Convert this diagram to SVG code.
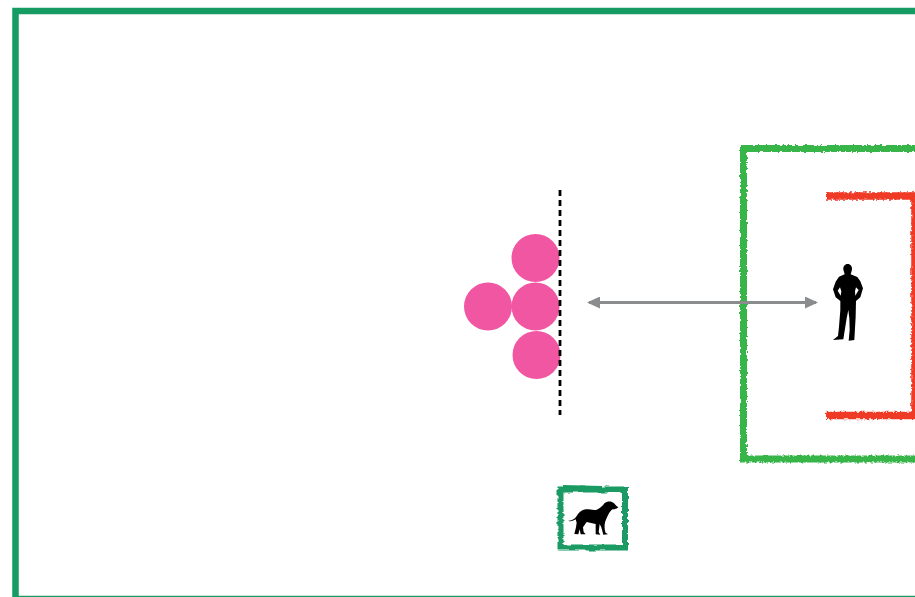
<svg xmlns="http://www.w3.org/2000/svg" width="915" height="597" viewBox="0 0 915 597">
<style>
.rough{fill:none;stroke-linejoin:miter;filter:url(#rough)}
.pink{fill:#f156a3}
.sil{fill:#000;fill-rule:evenodd}
.link{fill:none;stroke:#8a8c8e;stroke-width:2.8;marker-start:url(#head);marker-end:url(#head)}
</style>
<defs>
<filter id="rough" x="-5%" y="-5%" width="110%" height="110%">
<feTurbulence type="fractalNoise" baseFrequency="0.4" numOctaves="2" seed="4"/>
<feDisplacementMap in="SourceGraphic" scale="4" xChannelSelector="R" yChannelSelector="G"/>
<feGaussianBlur stdDeviation="0.45"/>
</filter>
<filter id="brush" x="-10%" y="-10%" width="120%" height="120%">
<feTurbulence type="fractalNoise" baseFrequency="0.08 0.35" numOctaves="2" seed="7"/>
<feDisplacementMap in="SourceGraphic" scale="4" xChannelSelector="R" yChannelSelector="G"/>
<feGaussianBlur stdDeviation="0.4"/>
</filter>
<marker id="head" viewBox="0 0 13 12" refX="11" refY="6" markerWidth="13" markerHeight="12" markerUnits="userSpaceOnUse" orient="auto-start-reverse">
<path d="M0 0L13 6L0 12Z" fill="#8a8c8e"/>
</marker>
</defs>
<rect width="915" height="597" fill="#fff"/>
<g id="outer-frame"><rect x="15.500" y="11" width="940" height="588" fill="none" stroke="#169b62" stroke-width="6.500"/></g>
<g id="green-room"><path class="rough" d="M960 148.500H743.500V459H960" stroke="#39b54a" stroke-width="7"/></g>
<g id="red-room"><path class="rough" d="M826 196H915V415.500H826" stroke="#ef3a26" stroke-width="7.500"/></g>
<g id="group-circles">
<circle class="pink" cx="535.500" cy="258" r="24"/>
<circle class="pink" cx="488" cy="306.500" r="24"/>
<circle class="pink" cx="535.500" cy="306.500" r="24"/>
<circle class="pink" cx="536.500" cy="355" r="24"/>
</g>
<g id="barrier"><path d="M560 190V415" fill="none" stroke="#000" stroke-width="2.800" stroke-dasharray="6 4"/></g>
<g id="connectors"><path class="link" d="M589 302.500H816"/></g>
<g id="person"><path class="sil" transform="translate(810 250) scale(.3333)" d="M113 42C122 42 127 50 126 58C125 65 123 69 122 73L142 81L151 94L159 115L151 142L138 153L137 200L133 270L116 272L119 240L118 205L115 180L110 205L100 268L69 270L84 258L87 230L91 180L91 153L77 142L69 118L77 95L87 80L104 73C103 68 101 64 100 58C99 50 104 42 113 42ZM90 112L83 122L92 137L94 124ZM138 112L146 120L136 137L135 124Z"/></g>
<g id="dog-box">
<path d="M560.500 489.500L625 489.500L625 547.500L560.500 547.500Z" fill="none" stroke="#1a9a63" stroke-width="6" filter="url(#brush)"/>
<path d="M563 486.500L602 487.500" fill="none" stroke="#1a9a63" stroke-width="3"/>
<path class="sil" transform="translate(540 470) scale(.3333)" d="M85 152C95 152 104 148 110 138C116 127 125 120 137 118C148 117 160 122 170 119C180 116 187 108 194 99C200 94 212 92 220 98C225 102 228 108 235 112C232 116 226 118 218 118C212 122 208 128 204 136C199 146 195 154 194 164C193 174 195 184 197 188L204 193L190 194L184 172L179 162L176 186L181 194L167 193L167 162C158 160 148 158 140 156L129 172L131 186L137 193L122 193L119 178L115 193L103 192L108 172L110 158L107 148C100 152 92 156 85 152Z"/>
</g>
</svg>
